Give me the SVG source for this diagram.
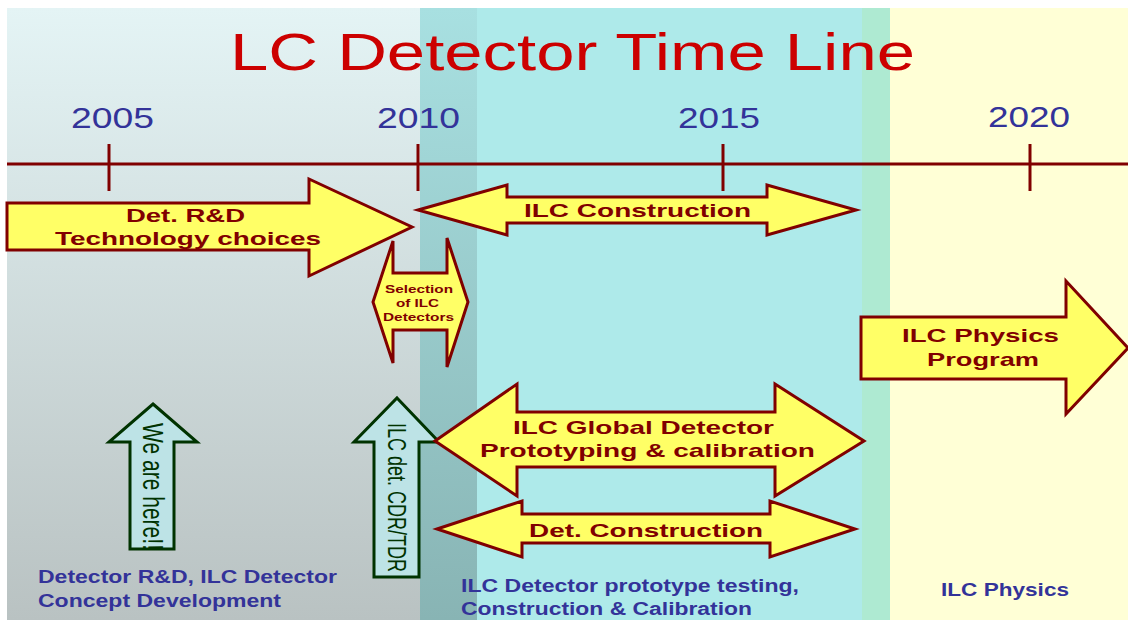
<svg xmlns="http://www.w3.org/2000/svg" width="1128" height="620" viewBox="0 0 1128 620">
<defs>
<linearGradient id="gLeft" x1="0" y1="0" x2="0" y2="1">
<stop offset="0" stop-color="#e4f4f5"/>
<stop offset="1" stop-color="#b9c2c2"/>
</linearGradient>
<linearGradient id="gBand" x1="0" y1="0" x2="0" y2="1">
<stop offset="0" stop-color="#a8e0e1"/>
<stop offset="1" stop-color="#88b4b4"/>
</linearGradient>
<style>
.blk{fill:#ffff66;stroke:#800000;stroke-width:3;stroke-linejoin:miter}
.grn{fill:#bde3e6;stroke:#003300;stroke-width:3}
.lbl{font-family:"Liberation Sans",Arial,sans-serif;font-weight:bold;fill:#800000}
.yr{font-family:"Liberation Sans",Arial,sans-serif;fill:#333399;font-size:29px}
.cap{font-family:"Liberation Sans",Arial,sans-serif;font-weight:bold;fill:#333399;font-size:18px}
.gtx{font-family:"Liberation Sans",Arial,sans-serif;fill:#003300}
.axis{stroke:#800000;stroke-width:3;fill:none}
</style>
</defs>
<g id="background">
<rect x="0" y="0" width="1128" height="620" fill="#ffffff"/>
<rect x="7" y="8" width="413" height="612" fill="url(#gLeft)"/>
<rect x="420" y="8" width="57" height="612" fill="url(#gBand)"/>
<rect x="477" y="8" width="385" height="612" fill="#aeeaea"/>
<rect x="862" y="8" width="28" height="612" fill="#aeead2"/>
<rect x="890" y="8" width="238" height="612" fill="#ffffd6"/>
</g>
<g id="title">
<text x="230" y="70" font-family="'Liberation Sans',Arial,sans-serif" font-size="52" fill="#cc0000" textLength="685" lengthAdjust="spacingAndGlyphs">LC Detector Time Line</text>
</g>
<g id="years">
<text class="yr" x="71" y="128" textLength="83" lengthAdjust="spacingAndGlyphs">2005</text>
<text class="yr" x="377" y="128" textLength="83" lengthAdjust="spacingAndGlyphs">2010</text>
<text class="yr" x="678" y="128" textLength="82" lengthAdjust="spacingAndGlyphs">2015</text>
<text class="yr" x="988" y="127" textLength="82" lengthAdjust="spacingAndGlyphs">2020</text>
</g>
<g id="connectors">
<line class="axis" x1="7" y1="164" x2="1128" y2="164"/>
<line class="axis" x1="109" y1="144" x2="109" y2="191"/>
<line class="axis" x1="418" y1="144" x2="418" y2="191"/>
<line class="axis" x1="723" y1="144" x2="723" y2="191"/>
<line class="axis" x1="1030" y1="144" x2="1030" y2="191"/>
</g>
<g id="we-are-here">
<polygon class="grn" points="153,404 197,442 174,442 174,549 130,549 130,442 109,442"/>
<text class="gtx" font-size="21" transform="translate(143,423) rotate(90) scale(1,1.4)" textLength="127" lengthAdjust="spacingAndGlyphs">We are here!!</text>
</g>
<g id="cdr-tdr">
<polygon class="grn" points="397,398 439,442 419,442 419,577 374,577 374,442 354,442"/>
<text class="gtx" font-size="19" transform="translate(388,423) rotate(90) scale(1,1.4)" textLength="149" lengthAdjust="spacingAndGlyphs">ILC det. CDR/TDR</text>
</g>
<g id="det-rd">
<polygon class="blk" points="7,203 309,203 309,179 412,227 309,276 309,250 7,250"/>
<text class="lbl" font-size="19" x="126" y="222" textLength="119" lengthAdjust="spacingAndGlyphs">Det. R&amp;D</text>
<text class="lbl" font-size="19" x="55" y="245" textLength="266" lengthAdjust="spacingAndGlyphs">Technology choices</text>
</g>
<g id="ilc-construction">
<polygon class="blk" points="418,210 507,185 507,197 767,197 767,185 856,210 767,235 767,223 507,223 507,235"/>
<text class="lbl" font-size="19" x="524" y="217" textLength="227" lengthAdjust="spacingAndGlyphs">ILC Construction</text>
</g>
<g id="selection">
<polygon class="blk" points="373,302 393,241 393,273 447,273 447,238 468,302 447,367 447,330 393,330 393,363"/>
<text class="lbl" font-size="11.5" x="385" y="293" textLength="68" lengthAdjust="spacingAndGlyphs">Selection</text>
<text class="lbl" font-size="11.5" x="396" y="307" textLength="43" lengthAdjust="spacingAndGlyphs">of ILC</text>
<text class="lbl" font-size="11.5" x="383" y="321" textLength="71" lengthAdjust="spacingAndGlyphs">Detectors</text>
</g>
<g id="physics-program">
<polygon class="blk" points="861,317 1066,317 1066,281 1128,348 1066,414 1066,379 861,379"/>
<text class="lbl" font-size="19" x="902" y="342" textLength="157" lengthAdjust="spacingAndGlyphs">ILC Physics</text>
<text class="lbl" font-size="19" x="927" y="366" textLength="112" lengthAdjust="spacingAndGlyphs">Program</text>
</g>
<g id="global-detector">
<polygon class="blk" points="435,441 517,384 517,412 775,412 775,384 864,441 775,496 775,467 517,467 517,496"/>
<text class="lbl" font-size="19" x="513" y="434" textLength="261" lengthAdjust="spacingAndGlyphs">ILC Global Detector</text>
<text class="lbl" font-size="19" x="480" y="457" textLength="335" lengthAdjust="spacingAndGlyphs">Prototyping &amp; calibration</text>
</g>
<g id="det-construction">
<polygon class="blk" points="437,529 522,501 522,514 770,514 770,501 855,529 770,557 770,543 522,543 522,557"/>
<text class="lbl" font-size="19" x="529" y="537" textLength="234" lengthAdjust="spacingAndGlyphs">Det. Construction</text>
</g>
<g id="caption-left">
<text class="cap" x="38" y="583" textLength="299" lengthAdjust="spacingAndGlyphs">Detector R&amp;D, ILC Detector</text>
<text class="cap" x="38" y="607" textLength="243" lengthAdjust="spacingAndGlyphs">Concept Development</text>
</g>
<g id="caption-middle">
<text class="cap" x="461" y="592" textLength="338" lengthAdjust="spacingAndGlyphs">ILC Detector prototype testing,</text>
<text class="cap" x="461" y="615" textLength="291" lengthAdjust="spacingAndGlyphs">Construction &amp; Calibration</text>
</g>
<g id="caption-right">
<text class="cap" x="941" y="596" textLength="128" lengthAdjust="spacingAndGlyphs">ILC Physics</text>
</g>
</svg>
